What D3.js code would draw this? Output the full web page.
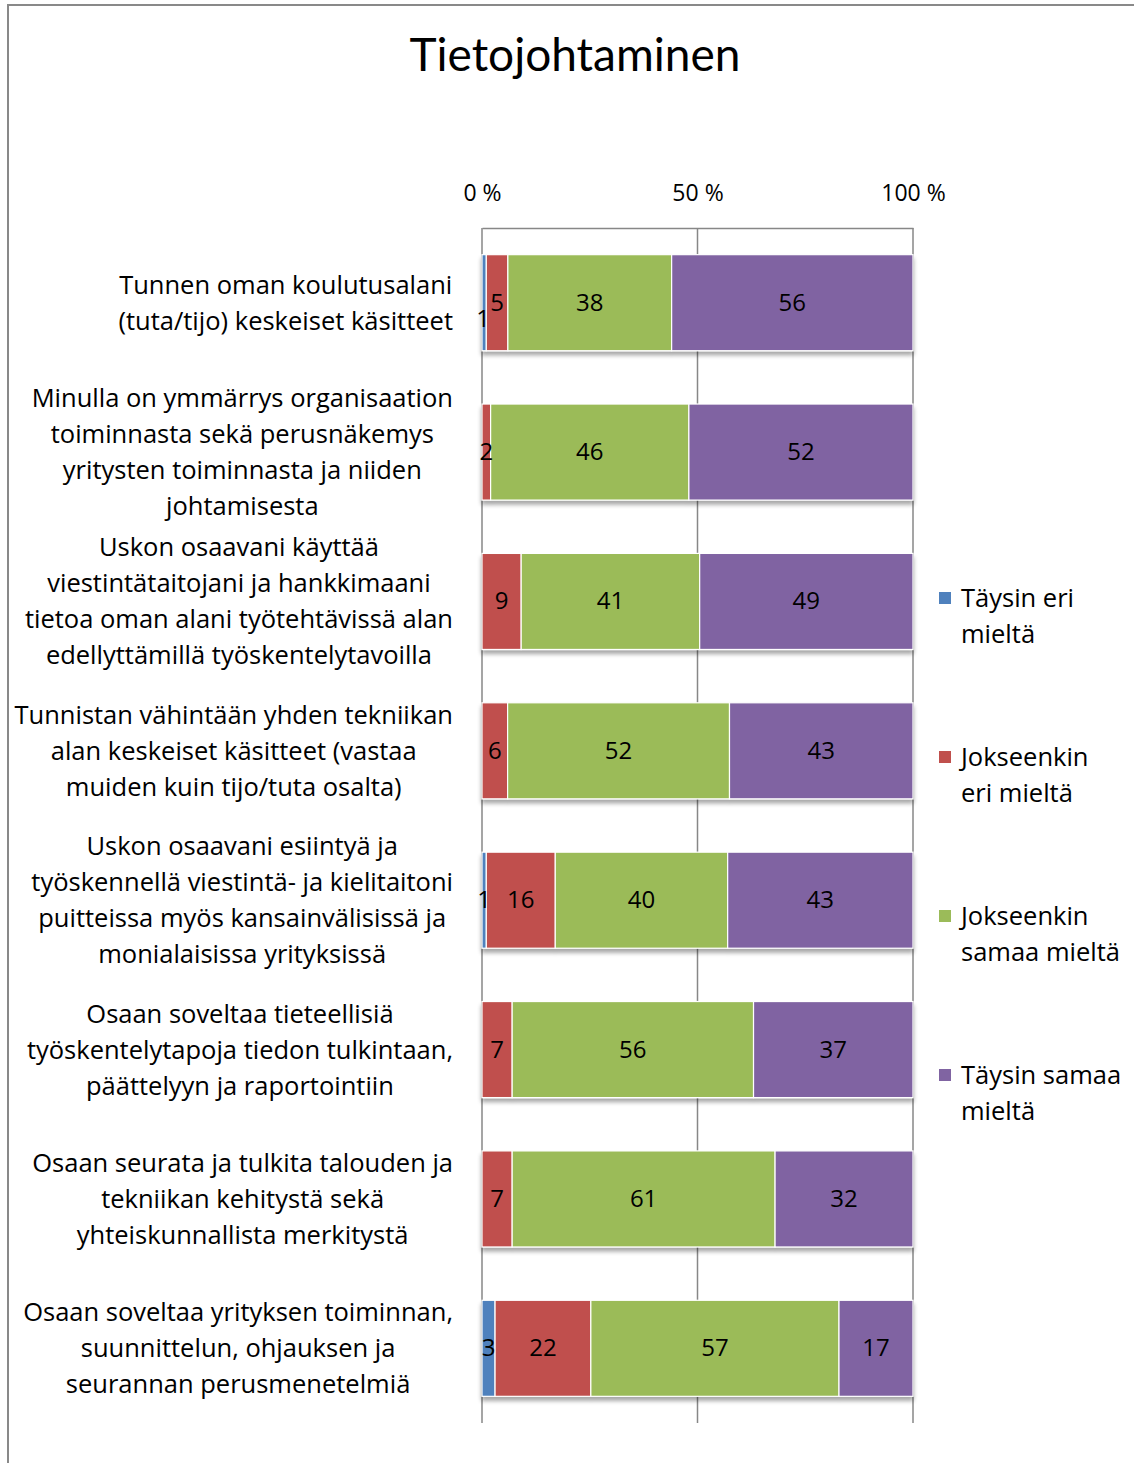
<!DOCTYPE html>
<html>
<head>
<meta charset="utf-8">
<script src="https://cdn.jsdelivr.net/npm/d3@7"></script>
<style>
  html, body { margin: 0; padding: 0; background: #fff; }
  svg { display: block; }
  text { font-family: "Open Sans", "Noto Sans", sans-serif; fill: #000; }
</style>
</head>
<body>
<svg id="chart" width="1134" height="1463"></svg>
<script>
// Survey statements (each line of a label on its own)
const categories = [
  ["Tunnen oman koulutusalani", "(tuta/tijo) keskeiset käsitteet"],
  ["Minulla on ymmärrys organisaation", "toiminnasta sekä perusnäkemys", "yritysten toiminnasta ja niiden", "johtamisesta"],
  ["Uskon osaavani käyttää", "viestintätaitojani ja hankkimaani", "tietoa oman alani työtehtävissä alan", "edellyttämillä työskentelytavoilla"],
  ["Tunnistan vähintään yhden tekniikan", "alan keskeiset käsitteet (vastaa", "muiden kuin tijo/tuta osalta)"],
  ["Uskon osaavani esiintyä ja", "työskennellä viestintä- ja kielitaitoni", "puitteissa myös kansainvälisissä ja", "monialaisissa yrityksissä"],
  ["Osaan soveltaa tieteellisiä", "työskentelytapoja tiedon tulkintaan,", "päättelyyn ja raportointiin"],
  ["Osaan seurata ja tulkita talouden ja", "tekniikan kehitystä sekä", "yhteiskunnallista merkitystä"],
  ["Osaan soveltaa yrityksen toiminnan,", "suunnittelun, ohjauksen ja", "seurannan perusmenetelmiä"]
];

// Response series
const seriesNames = [
  ["Täysin eri", "mieltä"],
  ["Jokseenkin", "eri mieltä"],
  ["Jokseenkin", "samaa mieltä"],
  ["Täysin samaa", "mieltä"]
];
const taysinEri       = [1, 0, 0, 0, 1, 0, 0, 3];
const jokseenkinEri   = [5, 2, 9, 6, 16, 7, 7, 22];
const jokseenkinSamaa = [38, 46, 41, 52, 40, 56, 61, 57];
const taysinSamaa     = [56, 52, 49, 43, 43, 37, 32, 17];

const tickValues = [0, 0.5, 1];
const tickLabels = ["0 %", "50 %", "100 %"];
const titleText = "Tietojohtaminen";

const colors = ["#4F81BD", "#C0504D", "#9BBB59", "#8064A2"];

const seriesValues = [taysinEri, jokseenkinEri, jokseenkinSamaa, taysinSamaa];
const rows = categories.map((c, i) => {
  const vals = seriesValues.map(s => s[i]);
  const total = d3.sum(vals);
  let acc = 0;
  const segs = vals.map((v, k) => {
    const seg = { k, v, x0: acc / total, x1: (acc + v) / total };
    acc += v;
    return seg;
  });
  return { i, lines: c, segs };
});

const svg = d3.select("#chart");

// Outer frame
svg.append("rect")
  .attr("x", 8).attr("y", 5)
  .attr("width", 1140).attr("height", 1470)
  .attr("fill", "none").attr("stroke", "#898989").attr("stroke-width", 2);

// Soft drop shadow under the bars
const defs = svg.append("defs");
const f = defs.append("filter").attr("id", "shadow")
  .attr("x", "-5%").attr("y", "-10%").attr("width", "110%").attr("height", "130%");
f.append("feGaussianBlur").attr("in", "SourceAlpha").attr("stdDeviation", 2).attr("result", "b");
f.append("feOffset").attr("in", "b").attr("dx", 0).attr("dy", 4).attr("result", "o");
f.append("feComponentTransfer").attr("in", "o").attr("result", "s")
  .append("feFuncA").attr("type", "linear").attr("slope", 0.35);
const fm = f.append("feMerge");
fm.append("feMergeNode").attr("in", "s");
fm.append("feMergeNode").attr("in", "SourceGraphic");

// Title
svg.append("text")
  .attr("x", 575).attr("y", 71)
  .attr("text-anchor", "middle")
  .style("font-family", "Lato, 'Open Sans', sans-serif")
  .style("font-size", "46px")
  .text(titleText);

const plot = { left: 482, right: 913, top: 228, bottom: 1423 };

const x = d3.scaleLinear().domain([0, 1]).range([plot.left, plot.right]);
const y = d3.scaleBand()
  .domain(d3.range(categories.length))
  .range([plot.top, plot.bottom])
  .paddingInner(0.357)
  .paddingOuter(0.1785);

// Gridlines
svg.append("g").selectAll("line")
  .data(tickValues)
  .join("line")
  .attr("x1", d => x(d)).attr("x2", d => x(d))
  .attr("y1", plot.top).attr("y2", plot.bottom)
  .attr("stroke", "#878787").attr("stroke-width", 1.5);

// Top value axis
const axis = svg.append("g")
  .attr("transform", `translate(0,${plot.top})`)
  .call(d3.axisTop(x).tickValues(tickValues).tickFormat((d, i) => tickLabels[i]).tickSize(0).tickPadding(27));
axis.select(".domain").attr("stroke", "#878787").attr("stroke-width", 1.5);
axis.selectAll("text")
  .style("font-family", "'Open Sans', sans-serif")
  .style("font-size", "23px").attr("fill", "#000");

// Bars
const barG = svg.append("g").selectAll("g")
  .data(rows)
  .join("g")
  .attr("filter", "url(#shadow)");

barG.selectAll("rect")
  .data(d => d.segs.filter(s => s.v > 0).map(s => ({ ...s, row: d.i })))
  .join("rect")
  .attr("x", s => x(s.x0))
  .attr("y", s => y(s.row))
  .attr("width", s => x(s.x1) - x(s.x0))
  .attr("height", y.bandwidth())
  .attr("fill", s => colors[s.k])
  .attr("stroke", "#fff").attr("stroke-width", 1.2);

// Value labels (zero values stay unlabeled)
const labelData = rows.flatMap(d => d.segs.filter(s => s.v > 0).map(s => ({ ...s, row: d.i })));
const labels = svg.append("g").selectAll("text")
  .data(labelData)
  .join("text")
  .attr("x", s => (x(s.x0) + x(s.x1)) / 2)
  .attr("y", s => y(s.row) + y.bandwidth() / 2 + 8)
  .attr("text-anchor", "middle")
  .style("font-size", "24px")
  .text(s => s.v);

// Nudge a label down when it crowds the next label in the same bar
const labelNodes = labels.nodes();
labels.each(function (s, idx) {
  const next = labelData[idx + 1];
  if (!next || next.row !== s.row) return;
  const a = this.getBBox();
  const b = labelNodes[idx + 1].getBBox();
  if (a.x + a.width + 6 > b.x) {
    d3.select(this)
      .attr("y", y(s.row) + y.bandwidth() / 2 + 24)
      .attr("x", x(s.x0) + 1);
  }
});

// Category labels: lines centred within a block that is right-aligned to the axis
const labelRight = 453;
const lineH = 36;
rows.forEach(d => {
  const g = svg.append("g");
  const cy = y(d.i) + y.bandwidth() / 2;
  const n = d.lines.length;
  const texts = d.lines.map((ln, j) =>
    g.append("text")
      .attr("y", cy + (j - (n - 1) / 2) * lineH + 9)
      .attr("text-anchor", "middle")
      .style("font-size", "25.5px")
      .text(ln));
  const maxW = d3.max(texts, t => t.node().getComputedTextLength());
  texts.forEach(t => t.attr("x", labelRight - maxW / 2));
});

// Legend
const legendY = [598, 757, 916, 1075];
const leg = svg.append("g").selectAll("g")
  .data(seriesNames)
  .join("g")
  .attr("transform", (d, i) => `translate(939,${legendY[i]})`);
leg.append("rect")
  .attr("x", 0).attr("y", -6).attr("width", 12).attr("height", 12)
  .attr("fill", (d, i) => colors[i]);
leg.each(function (d) {
  d3.select(this).selectAll("text")
    .data(d)
    .join("text")
    .attr("x", 22)
    .attr("y", (t, j) => j * 36 + 9)
    .style("font-size", "25.5px")
    .text(t => t);
});
</script>
</body>
</html>
